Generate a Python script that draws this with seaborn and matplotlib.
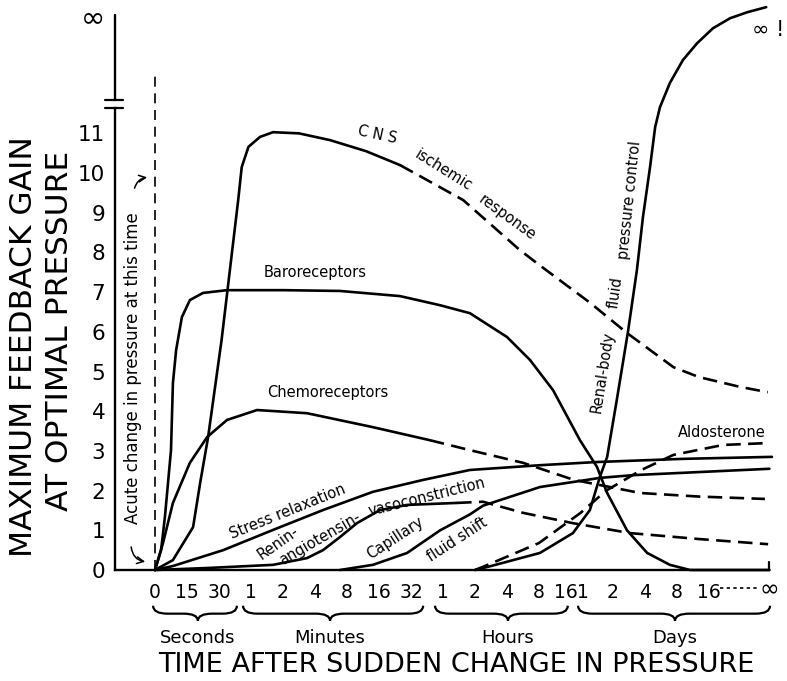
import matplotlib
matplotlib.use("Agg")
import matplotlib.pyplot as plt
import seaborn as sns
import pandas as pd
from matplotlib.path import Path
from matplotlib.patches import PathPatch
from matplotlib.transforms import ScaledTranslation

# ---------------- data (x = position on the custom time axis, y = gain) -------------
tick_pos = [0, 1, 2, 3, 4, 5, 6, 7, 8, 9, 10, 11, 12, 13, 13.3, 14.3, 15.3, 16.3, 17.3]
tick_lab = ["0", "15", "30", "1", "2", "4", "8", "16", "32",
            "1", "2", "4", "8", "16", "1", "2", "4", "8", "16"]
inf_pos = 19.2
groups = ["Seconds", "Minutes", "Hours", "Days"]
group_span = [(-0.06, 2.56), (2.75, 8.38), (8.75, 12.9), (13.22, 19.22)]
group_mid = [1.34, 5.47, 11.03, 16.25]

y_ticks = [0, 1, 2, 3, 4, 5, 6, 7, 8, 9, 10, 11]
y_inf = 13.98

cns_x = [0, 0.56, 1.19, 1.41, 1.66, 2.08, 2.6, 2.71, 2.92, 3.28, 3.69, 4.5, 5.47, 6.6, 7.66]
cns_y = [0, 0.25, 1.08, 2.19, 3.35, 5.79, 9.32, 10.15, 10.66, 10.91, 11.03, 11.0, 10.83, 10.55, 10.2]
cns_dx = [7.66, 9.63, 11.4, 12.1, 13.6, 14.75, 16.2, 17.0, 18.3, 19.15]
cns_dy = [10.2, 9.32, 8.06, 7.63, 6.73, 5.97, 5.11, 4.86, 4.61, 4.48]

baro_x = [0, 0.19, 0.31, 0.5, 0.56, 0.66, 0.84, 1.09, 1.5, 2.25, 4.0, 5.78, 7.66, 8.91,
          9.84, 11.0, 11.72, 12.44, 13.28, 13.81, 14.13, 14.75, 15.38, 16.09, 16.72, 19.2]
baro_y = [0, 0.5, 1.34, 3.02, 4.71, 5.54, 6.37, 6.8, 6.98, 7.05, 7.05, 7.03, 6.9, 6.67,
          6.47, 5.87, 5.29, 4.53, 3.27, 2.6, 1.94, 1.0, 0.43, 0.13, 0.0, 0.0]

chemo_x = [0, 0.25, 0.56, 1.09, 1.63, 2.25, 3.19, 4.75, 6.8, 8.59]
chemo_y = [0, 0.68, 1.69, 2.7, 3.35, 3.78, 4.03, 3.95, 3.6, 3.27]
chemo_dx = [8.59, 9.84, 11.5, 13.09, 15.16, 17.0, 19.06]
chemo_dy = [3.27, 3.02, 2.7, 2.27, 1.94, 1.85, 1.79]

stress_x = [0, 0.56, 2.13, 3.69, 5.25, 6.81, 8.38, 9.84, 12.03, 13.8, 16.5, 19.28]
stress_y = [0, 0.1, 0.5, 1.01, 1.51, 1.97, 2.27, 2.52, 2.64, 2.72, 2.8, 2.85]

renin_x = [0, 1.63, 3.69, 4.75, 5.25, 5.78, 6.31, 7.03, 7.88, 9.44]
renin_y = [0, 0.05, 0.13, 0.3, 0.5, 0.83, 1.18, 1.51, 1.64, 1.69]
renin_dx = [9.44, 10.25, 11.5, 13.06, 14.84, 17.0, 19.16]
renin_dy = [1.69, 1.72, 1.44, 1.18, 0.93, 0.78, 0.65]

cap_x = [5.78, 6.81, 7.88, 8.91, 9.84, 10.25, 12.03, 13.9, 14.94, 19.2]
cap_y = [0, 0.13, 0.43, 1.0, 1.4, 1.62, 2.09, 2.32, 2.39, 2.55]

aldo_x = [10.0, 10.4, 12.0, 13.3, 14.1, 15.2, 16.2, 17.75, 19.2]
aldo_y = [0, 0.13, 0.68, 1.44, 2.0, 2.52, 2.9, 3.15, 3.2]

renal_x = [10.0, 10.5, 12.03, 13.06, 13.59, 13.9, 14.13, 14.43, 14.78, 15.06, 15.25,
           15.47, 15.63, 15.78, 16.09, 16.5, 16.94, 17.44, 17.97, 18.5, 19.1]
renal_y = [0, 0.1, 0.43, 0.93, 1.51, 2.34, 2.85, 4.28, 6.0, 7.56, 8.9,
           10.15, 11.16, 11.66, 12.27, 12.85, 13.27, 13.65, 13.9, 14.05, 14.18]

acute_x = [0, 0]
acute_y = [0, 12.6]

# ---------------- styling ----------------
sns.set_theme(style="white")
plt.rcParams["font.family"] = ["DejaVu Sans"]
plt.rcParams["text.color"] = "black"
plt.rcParams["axes.labelcolor"] = "black"
plt.rcParams["xtick.color"] = "black"
plt.rcParams["ytick.color"] = "black"
plt.rcParams["lines.solid_joinstyle"] = "round"
plt.rcParams["lines.solid_capstyle"] = "round"

W, H = 787, 681
fig = plt.figure(figsize=(W / 100, H / 100), dpi=100)
ax = fig.add_axes([115 / W, (H - 570) / H, (W - 115) / W, 570 / H])
ax.set_xlim(-1.25, 19.75)
ax.set_ylim(0, 14.36)

LW = 1.9
solid = dict(color="black", lw=LW, sort=False, estimator=None, ax=ax, clip_on=False)
dashed = dict(solid, linestyle=(0, (5.5, 2.8)))


def draw(x, y, kw):
    df = pd.DataFrame({"x": x, "y": y})
    sns.lineplot(data=df, x="x", y="y", **kw)


draw(cns_x, cns_y, solid)
draw(cns_dx, cns_dy, dashed)
draw(baro_x, baro_y, solid)
draw(chemo_x, chemo_y, solid)
draw(chemo_dx, chemo_dy, dashed)
draw(stress_x, stress_y, solid)
draw(renin_x, renin_y, solid)
draw(renin_dx, renin_dy, dashed)
draw(cap_x, cap_y, solid)
draw(aldo_x, aldo_y, dashed)
draw(renal_x, renal_y, solid)
draw(acute_x, acute_y, dict(dashed, lw=1.2, linestyle=(0, (6, 4))))

ax.set_xlabel("")
ax.set_ylabel("")

# ---------------- axes ----------------
for s in ["top", "right"]:
    ax.spines[s].set_visible(False)
for s in ["left", "bottom"]:
    ax.spines[s].set_color("black")
    ax.spines[s].set_linewidth(1.7)
ax.spines["left"].set_bounds(0, 11.64)
ax.spines["bottom"].set_bounds(-1.25, inf_pos)
ax.plot([-1.25, -1.25], [11.84, y_inf], color="black", lw=1.7, clip_on=False)
for yb in (11.64, 11.84):
    ax.plot([-1.55, -1.0], [yb, yb], color="black", lw=1.6, clip_on=False)
ax.plot([inf_pos, inf_pos], [0, 0.2], color="black", lw=1.6, clip_on=False)

ax.set_yticks(y_ticks + [y_inf])
ax.set_yticklabels([str(v) for v in y_ticks] + ["∞"])
ax.tick_params(axis="y", direction="out", length=6, width=1.6, pad=1, labelsize=15.5)
ax.get_yticklabels()[-1].set_fontsize(21)

ax.set_xticks(tick_pos)
ax.set_xticklabels(tick_lab)
ax.tick_params(axis="x", direction="out", length=6, width=1.6, pad=3, labelsize=13.5)
lab16 = ax.get_xticklabels()[13]
lab16.set_transform(lab16.get_transform() + ScaledTranslation(-4 / 72, 0, fig.dpi_scale_trans))
lab1 = ax.get_xticklabels()[14]
lab1.set_transform(lab1.get_transform() + ScaledTranslation(1.5 / 72, 0, fig.dpi_scale_trans))

ax.plot([17.66, 18.85], [-0.45, -0.45], color="black", lw=1.2, linestyle=(0, (2, 2)), clip_on=False)
ax.text(inf_pos, -0.5, "∞", ha="center", va="center", fontsize=17)


# braces
def brace(x0, x1, xm, y0=-0.9, y1=-1.1, y2=-1.28, r=0.45):
    verts = [(x0, y0), (x0, y1), (x0 + r, y1), (xm - r, y1), (xm, y1), (xm, y2),
             (xm, y1), (xm + r, y1), (x1 - r, y1), (x1, y1), (x1, y0)]
    codes = [Path.MOVETO, Path.CURVE3, Path.CURVE3, Path.LINETO, Path.CURVE3, Path.CURVE3,
             Path.CURVE3, Path.CURVE3, Path.LINETO, Path.CURVE3, Path.CURVE3]
    ax.add_patch(PathPatch(Path(verts, codes), fill=False, lw=1.6, color="black",
                           clip_on=False))


for (a, b), m, g in zip(group_span, group_mid, groups):
    brace(a, b, m)
    ax.text(m, -1.72, g, ha="center", va="center", fontsize=13)

fig.text(456 / W, 1 - 665 / H, "TIME AFTER SUDDEN CHANGE IN PRESSURE",
         ha="center", va="center", fontsize=19.5)
fig.text(24 / W, 1 - 347 / H, "MAXIMUM FEEDBACK GAIN", rotation=90,
         ha="center", va="center", fontsize=22.5)
fig.text(59 / W, 1 - 331 / H, "AT OPTIMAL PRESSURE", rotation=90,
         ha="center", va="center", fontsize=22.5)

# ---------------- annotations ----------------
tk = dict(ha="center", va="center", fontsize=10.5)
ax.text(-0.68, 5.09, "Acute change in pressure at this time", rotation=90, fontsize=12,
        ha="center", va="center")
ax.annotate("", xy=(-0.22, 0.2), xytext=(-0.75, 0.65),
            arrowprops=dict(arrowstyle="->", lw=1.1, color="black",
                            connectionstyle="arc3,rad=0.45"), annotation_clip=False)
ax.annotate("", xy=(-0.16, 9.9), xytext=(-0.66, 9.55),
            arrowprops=dict(arrowstyle="->", lw=1.1, color="black",
                            connectionstyle="arc3,rad=-0.4"), annotation_clip=False)

ax.text(6.94, 10.96, "C N S", rotation=-12, **tk)
ax.text(9.0, 10.08, "ischemic", rotation=-32, **tk)
ax.text(11.0, 8.87, "response", rotation=-36, **tk)
ax.text(5.0, 7.5, "Baroreceptors", **tk)
ax.text(5.4, 4.46, "Chemoreceptors", **tk)
ax.text(4.16, 1.46, "Stress relaxation", rotation=22, **tk)
ax.text(3.84, 0.68, "Renin-", rotation=35, **tk)
ax.text(5.16, 0.8, "angiotensin-", rotation=30, **tk)
ax.text(8.5, 1.84, "vasoconstriction", rotation=14, **tk)
ax.text(7.5, 0.8, "Capillary", rotation=33, **tk)
ax.text(9.44, 0.76, "fluid shift", rotation=33, **tk)
ax.text(14.0, 4.99, "Renal-body", rotation=81, **tk)
ax.text(14.4, 6.98, "fluid", rotation=82, **tk)
ax.text(14.84, 9.32, "pressure control", rotation=84, **tk)
ax.text(17.7, 3.47, "Aldosterone", **tk)
ax.text(19.16, 13.6, "∞ !", ha="center", va="center", fontsize=15)

fig.savefig("out.png", dpi=100)
